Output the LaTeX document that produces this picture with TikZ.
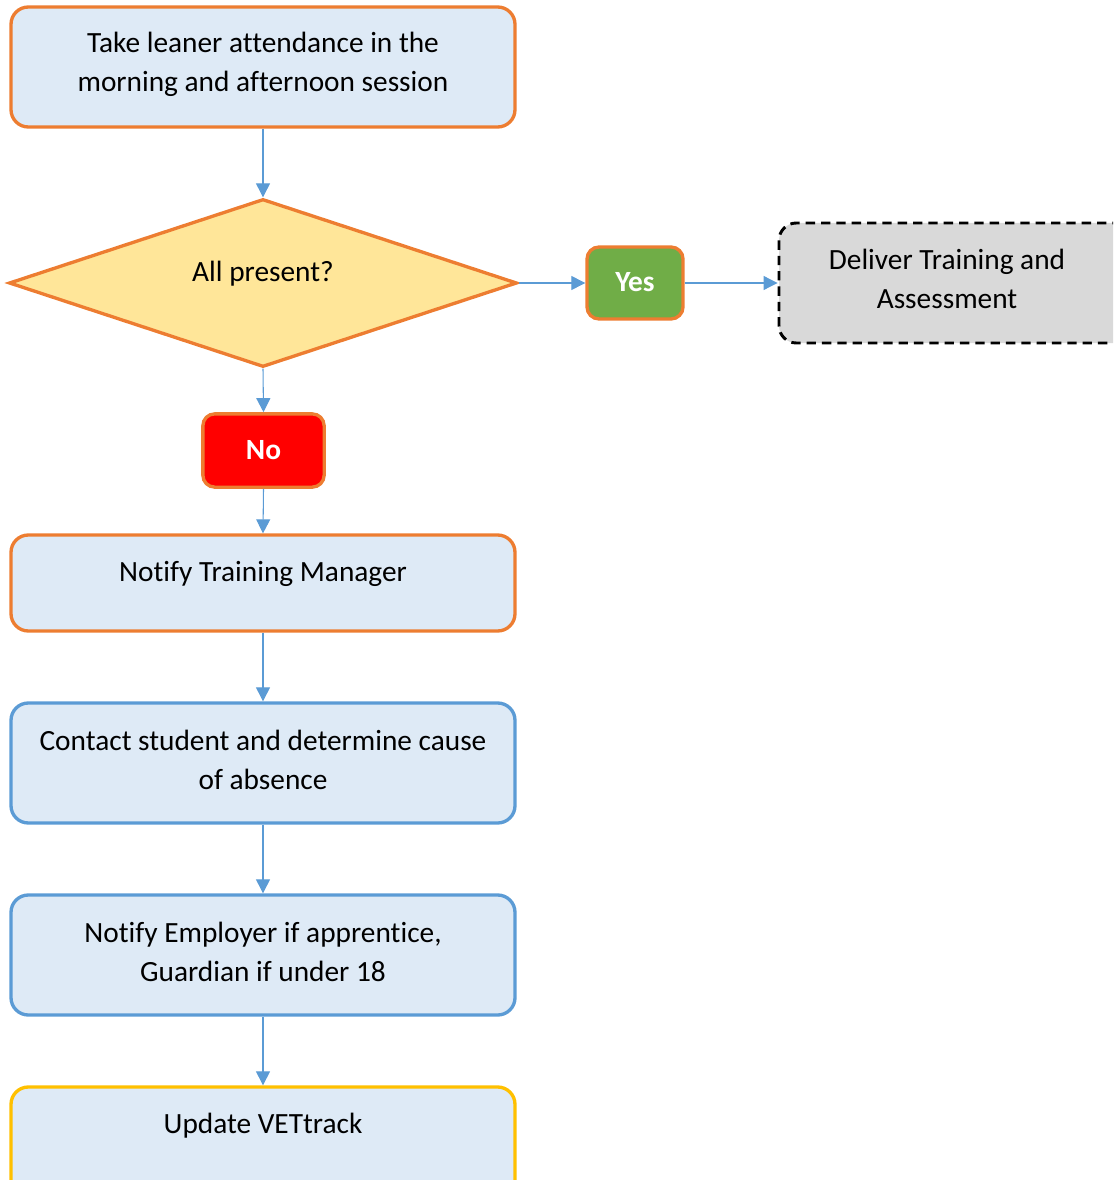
\documentclass[tikz,border=0pt]{standalone}
\usepackage{fontspec}
\setmainfont{Carlito}[Ligatures=NoCommon]
\usetikzlibrary{arrows.meta,shapes.geometric}
\definecolor{accOrange}{HTML}{ED7D31}
\definecolor{accBlue}{HTML}{5B9BD5}
\definecolor{accGold}{HTML}{FFC000}
\definecolor{paleBlue}{HTML}{DEEAF6}
\definecolor{paleYellow}{HTML}{FFE699}
\definecolor{okGreen}{HTML}{70AD47}
\definecolor{paleGray}{HTML}{D9D9D9}
\newcommand{\boxfont}{\fontsize{22pt}{29.25pt}\selectfont}
\tikzset{
  procbox/.style={rectangle, rounded corners=13pt, line width=2.5pt, fill=paleBlue,
    minimum width=378pt, inner sep=0pt},
  tagbox/.style={rectangle, rounded corners=9pt, line width=2.5pt, draw=accOrange,
    inner sep=0pt, text=white, font=\boxfont\bfseries},
  txt/.style={align=center, inner sep=0pt},
  flow/.style={draw=accBlue, line width=0.8pt, -{Triangle[length=10.5pt,width=10.5pt]}}
}
\begin{document}
\begin{tikzpicture}[x=0.75pt,y=-0.75pt,
  every node/.style={font=\boxfont}]
\useasboundingbox (0,0) rectangle (1113,1180);
\begin{scope}
\clip (0,0) rectangle (1113,1180);
% process boxes
\node[procbox, draw=accOrange, minimum height=90pt] (attend) at (263,67) {};
\node[txt] at (263,64.5) {Take leaner attendance in the\\morning and afternoon session};

\node[diamond, draw=accOrange, fill=paleYellow, line width=2.5pt, inner sep=0pt,
  minimum width=381pt, minimum height=126pt, aspect=3] (check) at (263,283) {};
\node[txt] at (263,274) {All present?};

\node[tagbox, fill=okGreen, minimum width=72pt, minimum height=54pt] (yes) at (635,283) {\raisebox{1.5pt}{Yes}};

\node[rectangle, rounded corners=13pt, line width=2.2pt, draw=black,
  dash pattern=on 7pt off 4.5pt, fill=paleGray, minimum width=270pt,
  minimum height=90pt] (deliver) at (959,283) {};
\node[txt] at (947,278.5) {Deliver Training and\\Assessment};

\node[tagbox, fill=red, minimum width=91pt, minimum height=55pt] (no) at (263.5,450.5) {No};

\node[procbox, draw=accOrange, minimum height=72pt] (manager) at (263,583) {};
\node[txt] at (263,574) {Notify Training Manager};

\node[procbox, draw=accBlue, minimum height=90pt] (contact) at (263,763) {};
\node[txt] at (263,760) {Contact student and determine cause\\of absence};

\node[procbox, draw=accBlue, minimum height=90pt] (employer) at (263,955) {};
\node[txt] at (263,952) {Notify Employer if apprentice,\\Guardian if under 18};

\node[procbox, draw=accGold, minimum height=90pt] (vettrack) at (263,1147) {};
\node[txt] at (263,1126) {Update VETtrack};
\end{scope}
% connectors
\draw[flow] (attend.south) -- (check.north);
\draw[flow] (check.east) -- (yes.west);
\draw[flow] (yes.east) -- (deliver.west);
\draw[flow] (check.south) -- (no.north);
\draw[flow] (no.south) -- (manager.north);
\draw[flow] (manager.south) -- (contact.north);
\draw[flow] (contact.south) -- (employer.north);
\draw[flow] (employer.south) -- (vettrack.north);
\end{tikzpicture}
\end{document}
